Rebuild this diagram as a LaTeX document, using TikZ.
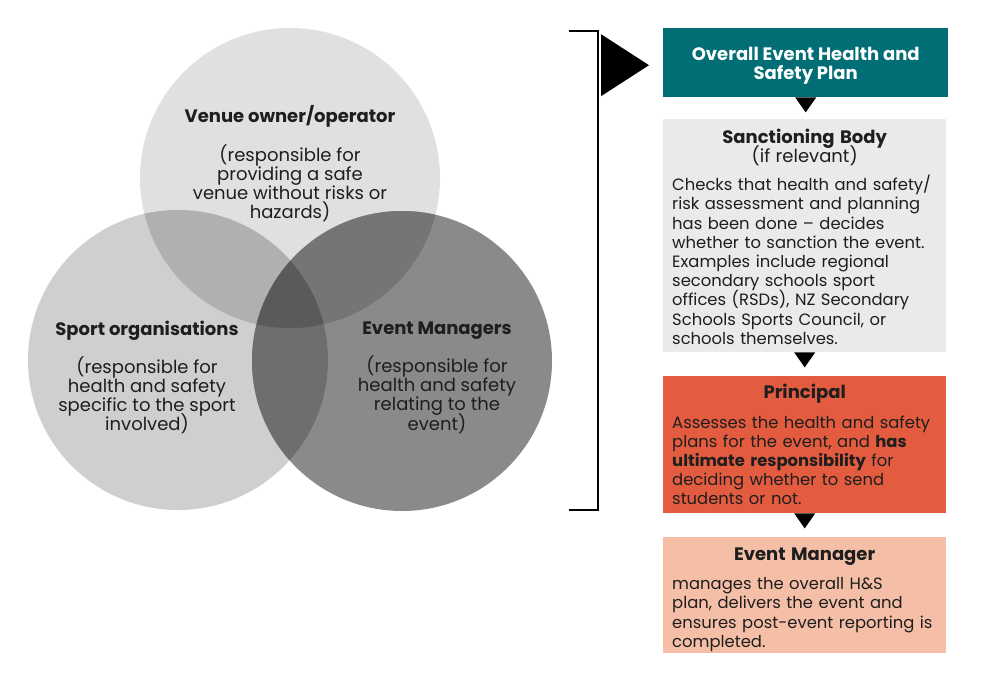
\documentclass[tikz,border=0pt]{standalone}
\usepackage{fontspec}
\setmainfont{Poppins}
\definecolor{cT}{HTML}{E0E0E0}
\definecolor{cL}{HTML}{CFCFCF}
\definecolor{cR}{HTML}{8A8A8A}
\definecolor{cTL}{HTML}{B0B0B0}
\definecolor{cTR}{HTML}{757575}
\definecolor{cLR}{HTML}{6E6E6E}
\definecolor{cTLR}{HTML}{5A5A5A}
\definecolor{tealbox}{HTML}{006E74}
\definecolor{graybox}{HTML}{EAEAEA}
\definecolor{redbox}{HTML}{E35C40}
\definecolor{pinkbox}{HTML}{F5BEA6}
\definecolor{txt}{HTML}{1E1E1E}
\newcommand{\bigf}{\fontsize{18}{19.2}\selectfont\lineskiplimit=-30pt}
\newcommand{\bodyf}{\fontsize{16.4}{19.2}\selectfont\lineskiplimit=-30pt}
\newcommand{\ttl}[1]{\makebox[265pt][c]{\bigf #1}}
\begin{document}
\begin{tikzpicture}[x=1pt,y=-1pt,
  every node/.style={text=txt},
  venntext/.style={align=center, inner sep=0pt, font=\bigf},
  flowbox/.style={rectangle, anchor=north west, inner xsep=9pt, inner ysep=0pt,
    minimum width=283pt, text width=265pt, align=left, font=\bodyf},
  flowtext/.style={inner sep=0pt, text width=265pt, align=left, font=\bodyf},
  tri/.style={fill=black},
  bracket/.style={line width=2pt, draw=black}
]
\useasboundingbox (0,0) rectangle (1000,676);
% Venn circles
\coordinate (T) at (290,178);
\coordinate (L) at (178,360);
\coordinate (R) at (402,361);
\fill[cT] (T) circle (150pt);
\fill[cL] (L) circle (150pt);
\fill[cR] (R) circle (150pt);
\begin{scope}\clip (T) circle (150pt); \fill[cTL] (L) circle (150pt); \end{scope}
\begin{scope}\clip (T) circle (150pt); \fill[cTR] (R) circle (150pt); \end{scope}
\begin{scope}\clip (L) circle (150pt); \fill[cLR] (R) circle (150pt); \end{scope}
\begin{scope}\clip (T) circle (150pt); \clip (L) circle (150pt); \fill[cTLR] (R) circle (150pt); \end{scope}
\node[venntext] (venue) at (290,164) {\textbf{Venue owner/operator}\\[19pt](responsible for\\providing a safe\\venue without risks or\\hazards)};
\node[venntext] (sport) at (147,377.5) {\textbf{Sport organisations}\\[19pt](responsible for\\health and safety\\specific to the sport\\involved)};
\node[venntext] (evm) at (437,377.5) {\textbf{Event Managers}\\[19pt](responsible for\\health and safety\\relating to the\\event)};
% Flow boxes
\node[flowbox, fill=tealbox, minimum width=285pt, minimum height=69pt] (plan) at (663,28) {};
\node[align=center, text=white, font=\bigf, inner sep=0pt] (plantext) at ([yshift=-3pt]plan.center)
  {\textbf{Overall Event Health and}\\\textbf{Safety Plan}};
\node[flowbox, fill=graybox, minimum height=233pt] (sanc) at (663,119) {};
\node[flowtext] (sanctext) at ([yshift=-1pt]sanc.center)
  {\ttl{\textbf{Sanctioning Body}}\\\ttl{(if relevant)}\\[9pt]Checks that health and safety/\\risk assessment and planning\\has been done -- decides\\whether to sanction the event.\\Examples include regional\\secondary schools sport\\offices (RSDs), NZ Secondary\\Schools Sports Council, or\\schools themselves.};
\node[flowbox, fill=redbox, minimum height=137pt] (prin) at (663,376) {};
\node[flowtext] (printext) at (prin.center)
  {\ttl{\textbf{Principal}}\\[10pt]Assesses the health and safety\\plans for the event, and \textbf{has}\\\textbf{ultimate responsibility} for\\deciding whether to send\\students or not.};
\node[flowbox, fill=pinkbox, minimum height=116pt] (mgr) at (663,537) {};
\node[flowtext] (mgrtext) at ([yshift=-4.5pt]mgr.center)
  {\ttl{\textbf{Event Manager}}\\[10pt]manages the overall H\&S\\plan, delivers the event and\\ensures post-event reporting is\\completed.};
% small arrow triangles
\fill[tri] (plan.south) ++(-10.5,0) -- ++(21,0) -- ++(-10.5,15) -- cycle;
\fill[tri] (sanc.south) ++(-10.5,0) -- ++(21,0) -- ++(-10.5,15) -- cycle;
\fill[tri] (prin.south) ++(-10.5,0) -- ++(21,0) -- ++(-10.5,15) -- cycle;
% bracket and big triangle
\coordinate (bt1) at (569,31);
\coordinate (bt2) at (598,31);
\coordinate (bb2) at (598,510);
\coordinate (bb1) at (569,510);
\draw[bracket] (bt1) -- (bt2) -- (bb2) -- (bb1);
\fill[tri] (plan.west) ++(-14,2.5) -- ++(-48,-31) -- ++(0,62) -- cycle;
\end{tikzpicture}
\end{document}
